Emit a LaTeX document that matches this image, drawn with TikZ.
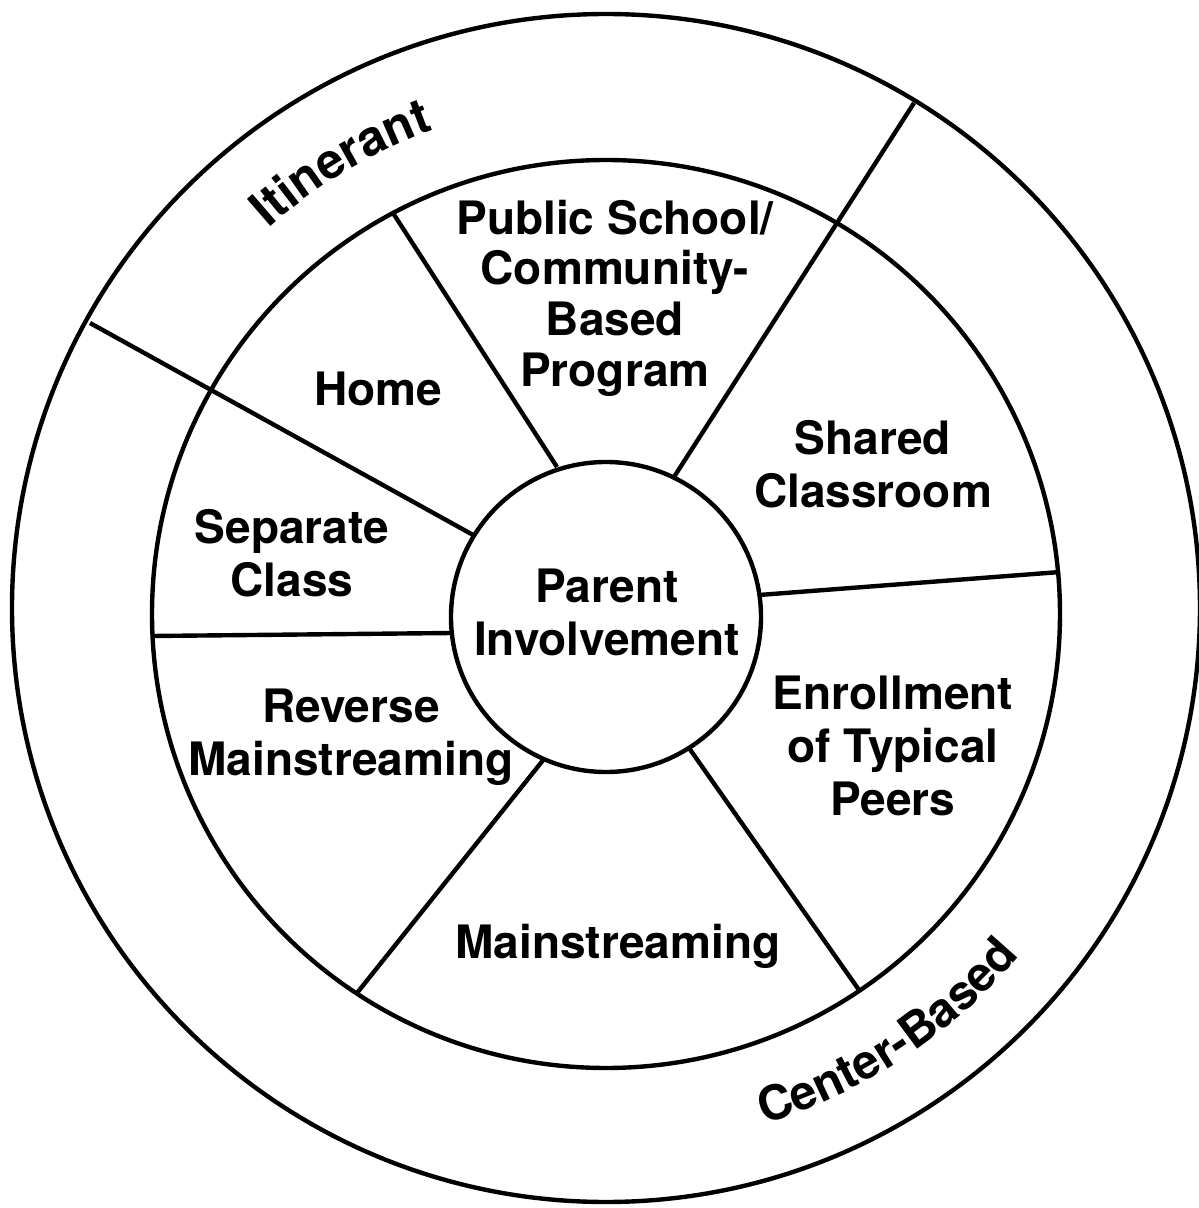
\documentclass[tikz,border=0pt]{standalone}
\usepackage{fontspec}
\setmainfont{TeX Gyre Heros}
\usetikzlibrary{calc,decorations.text}
\newcommand{\lblfont}{\bfseries\fontsize{13.1}{15.1}\selectfont}

\begin{document}
\begin{tikzpicture}[line width=1.25pt,
  sector/.style={font=\lblfont,align=center,inner sep=0pt}]
  \useasboundingbox (0,0) rectangle (11.99,12.08);
  \coordinate (outerc) at (6.06,6.00);
  \coordinate (midc) at (6.06,5.94);
  \coordinate (innerc) at (6.06,5.91);
  % die drei Ringe
  \draw (outerc) circle (5.94cm);
  \draw (midc) circle (4.54cm);
  \draw (innerc) circle (1.55cm);
  % Trennlinien
  \draw (0.90,8.85) -- (4.75,6.72);
  \draw (3.93,9.95) -- (5.57,7.41);
  \draw (9.14,11.05) -- (6.74,7.31);
  \draw (7.59,6.13) -- (10.60,6.36);
  \draw (6.89,4.60) -- (8.59,2.18);
  \draw (5.44,4.49) -- (3.57,2.15);
  \draw (1.52,5.72) -- (4.52,5.75);
  % Beschriftungen
  \draw
  (6.15,9.10) node[sector,font=\bfseries\fontsize{13.1}{14.4}\selectfont] (public)
  {Public School/\\Community-\\Based\\Program}
  (3.78,8.19) node[sector] (home) {Home}
  (8.73,7.44) node[sector] (shared) {Shared\\Classroom}
  (2.92,6.55) node[sector] (separate) {Separate\\Class}
  (6.07,5.96) node[sector] (parent) {Parent\\Involvement}
  (3.51,4.71) node[sector] (reverse) {Reverse\\Mainstreaming}
  (8.93,4.62) node[sector] (enroll) {Enrollment\\of Typical\\Peers}
  (6.18,2.62) node[sector] (mainstream) {Mainstreaming}
  ;
  % Text im aeusseren Ring
  \path[decorate,decoration={text along path,text align=center,
    text={|\bfseries\fontsize{14}{16}\selectfont|Itinerant}}]
  ($(outerc)+(150.75:5.08)$) arc[start angle=150.75,end angle=90.75,radius=5.08];
  \path[decorate,decoration={text along path,text align=center,
    text={|\bfseries\fontsize{13.6}{16}\selectfont|Center-Based}}]
  ($(outerc)+(-86.5:5.40)$) arc[start angle=-86.5,end angle=-26.5,radius=5.40];
\end{tikzpicture}
\end{document}
